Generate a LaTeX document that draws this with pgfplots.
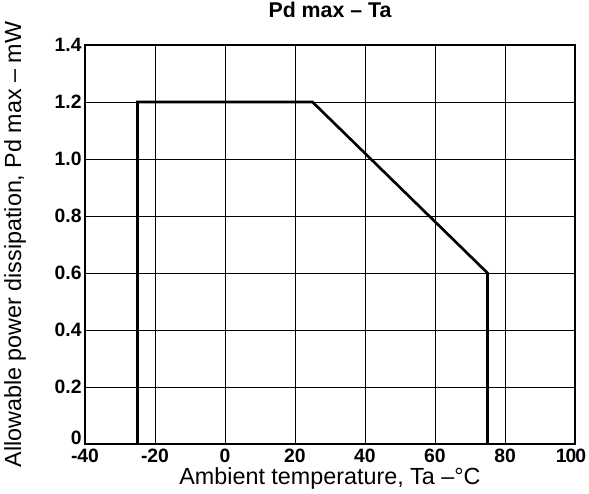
\documentclass[border=0pt]{standalone}
\usepackage{fontspec}
\setmainfont{Liberation Sans}
\usepackage{pgfplots}
\pgfplotsset{compat=1.18}
\usetikzlibrary{calc}
\begin{document}
\begin{tikzpicture}[x=1pt,y=1pt]
\def\px{0.75pt}
\begin{axis}[
  scale only axis,
  width=367.5pt, height=299.25pt,
  xmin=-40, xmax=100, ymin=0, ymax=1.4,
  xtick={-40,-20,...,100},
  xticklabels={-40,-20,0,20,40,60,80,\kern-6pt1\kern-0.8pt0\kern-0.8pt0},
  ytick={0,0.2,...,1.4},
  yticklabels={\raisebox{9pt}{0},0.2,0.4,0.6,0.8,1.0,1.2,1.4},
  /pgf/number format/assume math mode=true,
  tick label style={font=\fontsize{14.5}{16}\selectfont\bfseries},
  yticklabel style={xshift=1pt},
  major tick length=0pt,
  grid=major, grid style={black, line width=0.7pt},
  axis line style={line width=1.5pt},
  title={\bfseries Pd max -- Ta},
  title style={font=\fontsize{16}{18}\selectfont, at={(axis description cs:0.5,1.068)}, anchor=center},
  xlabel={Ambient temperature, Ta --°C},
  ylabel={Allowable power dissipation, Pd max -- mW},
  label style={font=\fontsize{17.5}{20}\selectfont},
  xlabel style={at={(axis description cs:0.5,-0.0852)}, anchor=center},
  ylabel style={at={(axis description cs:-0.1429,0.5)}, anchor=center},
]
\addplot[black, line width=2pt, line join=miter] coordinates {
  (-25,0) (-25,1.2) (25,1.2) (75,0.6) (75,0)
};
\coordinate (o) at (rel axis cs:0,0);
\end{axis}
\pgfresetboundingbox
\path[use as bounding box] ($(o)+(-85*\px,-49*\px)$) rectangle ++(589*\px,493*\px);
\end{tikzpicture}
\end{document}
